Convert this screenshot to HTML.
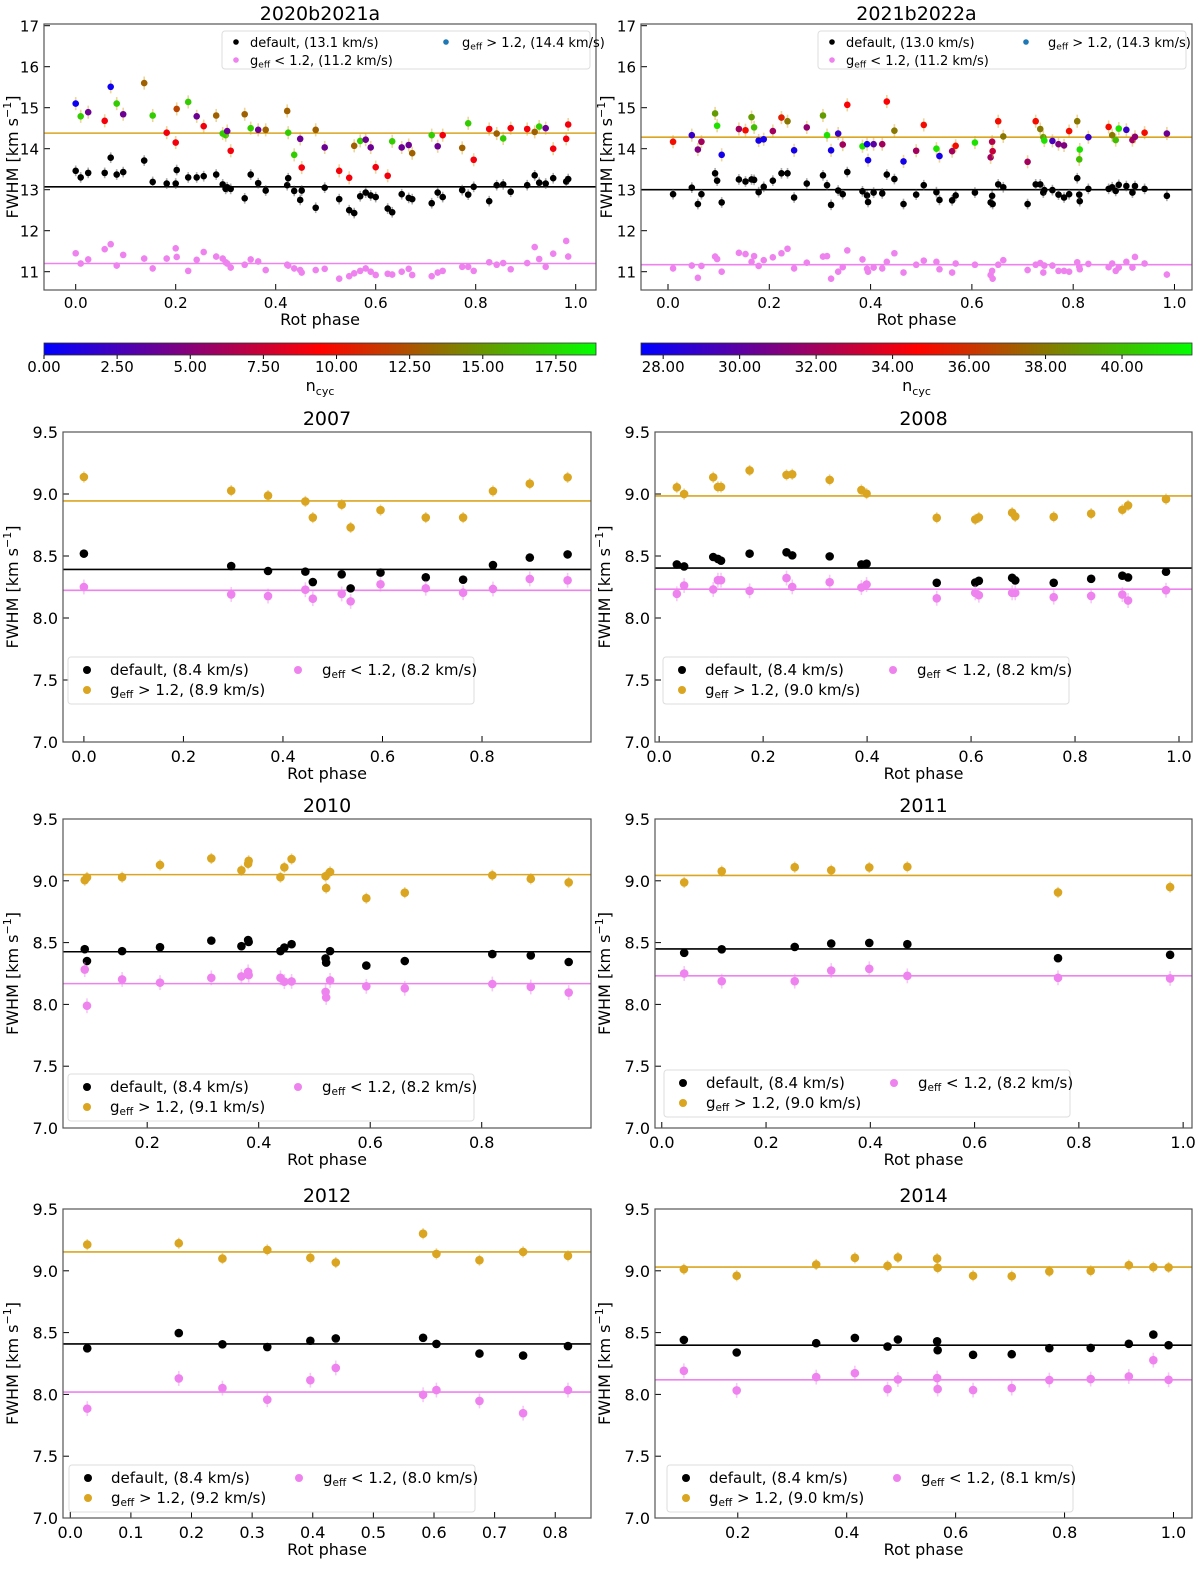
<!DOCTYPE html>
<html><head><meta charset="utf-8"><title>FWHM vs rotational phase</title>
<style>
html,body{margin:0;padding:0;background:#fff;}
svg{display:block;font-family:"DejaVu Sans","Liberation Sans",sans-serif;}
</style></head>
<body>
<svg id="fig" width="1200" height="1570" viewBox="0 0 1200 1570" xmlns="http://www.w3.org/2000/svg">
<defs>
<linearGradient id="brg" x1="0" x2="1" y1="0" y2="0"><stop offset="0" stop-color="#0000ff"/><stop offset="0.5" stop-color="#ff0000"/><stop offset="1" stop-color="#00ff00"/></linearGradient>
</defs>
</svg>
<script>
// ---------- data: 2020b2021a ----------
const p1Phase=[0,0.01,0.025,0.058,0.07,0.082,0.095,0.137,0.154,0.182,0.2,0.202,0.225,0.242,0.256,0.281,0.294,0.3,0.303,0.31,0.338,0.35,0.365,0.38,0.423,0.425,0.437,0.449,0.452,0.48,0.498,0.527,0.547,0.557,0.569,0.58,0.59,0.6,0.624,0.633,0.652,0.666,0.673,0.712,0.724,0.734,0.773,0.785,0.796,0.827,0.842,0.855,0.87,0.903,0.918,0.927,0.94,0.955,0.981,0.985];
const p1Hi=[15.1,14.79,14.89,14.68,15.51,15.1,14.84,15.6,14.81,14.39,14.15,14.97,15.14,14.79,14.55,14.81,14.37,14.33,14.43,13.95,14.84,14.5,14.46,14.46,14.92,14.39,13.85,14.24,13.54,14.46,14.03,13.46,13.29,14.07,14.19,14.22,14.03,13.55,13.34,14.18,14.03,14.09,13.89,14.33,14.06,14.33,14.02,14.62,13.73,14.48,14.37,14.25,14.5,14.48,14.41,14.54,14.5,14.0,14.24,14.59];
const p1Ncyc=[0.5,17,4,9,0.5,17,4,13,17,9,9,12,17,4,9,13,17,17,4,9,13,17,4,13,13,17,17,4,9,13,4,9,9,13,17,4,4,9,9,17,4,4,13,17,4,9,13,17,9,9,13,17,9,9,13,17,4,9,9,9];
const p1Def=[13.46,13.3,13.41,13.41,13.78,13.37,13.43,13.71,13.19,13.15,13.15,13.48,13.3,13.3,13.33,13.37,13.13,13.02,13.06,13.02,12.79,13.37,13.16,12.98,13.11,13.28,12.97,12.75,12.98,12.56,13.05,12.77,12.5,12.43,12.84,12.93,12.86,12.82,12.54,12.45,12.89,12.8,12.77,12.67,12.93,12.82,12.99,12.88,13.07,12.72,13.11,13.13,12.95,13.11,13.35,13.17,13.15,13.28,13.2,13.26];
const p1Lo=[11.45,11.2,11.3,11.55,11.67,11.15,11.41,11.32,11.08,11.32,11.57,11.36,11.02,11.29,11.48,11.37,11.32,11.23,11.2,11.1,11.17,11.3,11.25,11.04,11.17,11.15,11.08,11.04,10.98,11.04,11.07,10.83,10.89,10.96,11.02,11.08,11.0,10.92,10.95,10.93,11.0,11.07,10.92,10.89,10.98,11.02,11.12,11.12,11.02,11.23,11.17,11.21,11.06,11.21,11.6,11.31,11.12,11.44,11.75,11.37];
const p1Means=[13.07,14.38,11.2];
const p1Legend=["13.1","14.4","11.2"];
// ---------- data: 2021b2022a ----------
const p2Phase=[0.01,0.047,0.059,0.066,0.093,0.097,0.106,0.14,0.153,0.165,0.17,0.179,0.189,0.207,0.224,0.236,0.249,0.274,0.306,0.314,0.322,0.336,0.345,0.354,0.384,0.393,0.395,0.406,0.423,0.432,0.447,0.465,0.49,0.505,0.53,0.536,0.561,0.568,0.606,0.637,0.64,0.641,0.652,0.662,0.71,0.726,0.735,0.741,0.743,0.759,0.771,0.782,0.792,0.808,0.813,0.812,0.83,0.87,0.877,0.884,0.89,0.905,0.917,0.922,0.941,0.985];
const p2Hi=[14.17,14.33,13.98,14.17,14.86,14.56,13.85,14.48,14.45,14.77,14.52,14.2,14.23,14.43,14.76,14.67,13.96,14.52,14.81,14.33,13.96,14.37,14.1,15.07,14.06,14.11,13.72,14.11,14.11,15.15,14.44,13.69,13.95,14.58,14.0,13.82,13.94,14.07,14.15,13.79,14.17,13.94,14.67,14.3,13.68,14.67,14.48,14.28,14.2,14.19,14.11,14.08,14.43,14.67,13.98,13.74,14.28,14.53,14.33,14.21,14.49,14.46,14.21,14.29,14.39,14.37];
const p2Ncyc=[35,29,31,32,39,41,28,32,35,39,40,28,28,32,35.5,38,28,31.5,39,41,28,29,32,34.5,41,28,28,30,32,34.5,38,28,32,35,41,28,32,35,41,32,32.5,33,35,38,32,35,38,39,41,29.5,31,31,35,38,41,40,29,35,38,40,41,29,32,31.5,35,30.5];
const p2Def=[12.89,13.05,12.65,12.89,13.4,13.22,12.69,13.25,13.2,13.25,13.24,12.94,13.07,13.22,13.4,13.4,12.81,13.15,13.35,13.11,12.63,12.98,12.89,13.43,12.96,12.86,12.7,12.93,12.91,13.37,13.26,12.65,12.88,13.11,12.94,12.75,12.74,12.86,12.93,12.69,12.85,12.65,13.13,13.06,12.65,13.13,13.13,12.93,12.99,12.99,12.88,12.81,12.89,13.28,12.72,12.88,13.02,13.02,13.06,12.97,13.12,13.09,12.93,13.09,13.02,12.85];
const p2Lo=[11.08,11.15,10.85,11.14,11.37,11.31,11.0,11.46,11.43,11.24,11.38,11.14,11.28,11.35,11.45,11.56,11.08,11.22,11.37,11.38,10.83,11.0,11.11,11.52,11.3,11.07,11.0,11.1,11.08,11.24,11.45,10.98,11.17,11.27,11.24,11.06,10.98,11.2,11.17,10.92,11.02,10.83,11.17,11.28,11.04,11.17,11.21,10.98,11.15,11.15,11.02,11.02,11.0,11.23,11.06,11.12,11.19,11.11,11.2,11.02,11.1,11.24,11.1,11.36,11.2,10.93];
const p2Means=[13.0,14.28,11.17];
const p2Legend=["13.0","14.3","11.2"];
// ---------- data: 2007 ----------
const y07Phase=[0.0,0.296,0.37,0.445,0.46,0.518,0.536,0.596,0.687,0.762,0.822,0.896,0.972];
const y07Hi=[9.137,9.027,8.987,8.94,8.81,8.914,8.73,8.87,8.81,8.81,9.024,9.083,9.134];
const y07Def=[8.519,8.419,8.379,8.374,8.29,8.352,8.239,8.366,8.328,8.309,8.427,8.487,8.513];
const y07Lo=[8.25,8.19,8.177,8.228,8.156,8.194,8.134,8.272,8.24,8.204,8.234,8.315,8.304];
const y07Means=[8.392,8.944,8.223];
const y07Legend=["8.4","8.9","8.2"];
// ---------- data: 2008 ----------
const y08Phase=[0.034,0.048,0.104,0.113,0.119,0.174,0.245,0.256,0.328,0.389,0.399,0.534,0.608,0.615,0.679,0.685,0.759,0.831,0.891,0.902,0.975];
const y08Hi=[9.054,9.0,9.135,9.057,9.057,9.19,9.154,9.159,9.114,9.032,9.003,8.808,8.795,8.811,8.849,8.819,8.816,8.841,8.873,8.908,8.959];
const y08Def=[8.432,8.416,8.492,8.476,8.462,8.519,8.53,8.505,8.497,8.432,8.438,8.284,8.286,8.3,8.324,8.303,8.284,8.316,8.341,8.327,8.373];
const y08Lo=[8.195,8.262,8.23,8.305,8.305,8.219,8.322,8.251,8.289,8.246,8.27,8.159,8.203,8.184,8.203,8.203,8.168,8.178,8.189,8.141,8.224];
const y08Means=[8.403,8.984,8.232];
const y08Legend=["8.4","9.0","8.2"];
// ---------- data: 2010 ----------
const y10Phase=[0.088,0.092,0.155,0.223,0.315,0.369,0.381,0.382,0.439,0.446,0.459,0.52,0.521,0.528,0.593,0.662,0.819,0.888,0.956];
const y10Hi=[9.005,9.027,9.029,9.128,9.181,9.085,9.138,9.162,9.029,9.109,9.176,9.037,8.941,9.072,8.859,8.904,9.045,9.016,8.987];
const y10Def=[8.447,8.351,8.431,8.463,8.516,8.471,8.521,8.505,8.431,8.46,8.487,8.372,8.338,8.431,8.314,8.351,8.407,8.396,8.343];
const y10Lo=[8.282,7.989,8.202,8.176,8.215,8.226,8.263,8.237,8.215,8.184,8.186,8.101,8.056,8.194,8.146,8.13,8.165,8.141,8.096];
const y10Means=[8.426,9.05,8.168];
const y10Legend=["8.4","9.1","8.2"];
// ---------- data: 2011 ----------
const y11Phase=[0.043,0.115,0.255,0.325,0.398,0.471,0.76,0.975];
const y11Hi=[8.987,9.078,9.11,9.086,9.108,9.113,8.906,8.949];
const y11Def=[8.417,8.446,8.465,8.492,8.497,8.487,8.374,8.401];
const y11Lo=[8.25,8.188,8.188,8.274,8.288,8.231,8.215,8.21];
const y11Means=[8.449,9.043,8.231];
const y11Legend=["8.4","9.0","8.2"];
// ---------- data: 2012 ----------
const y12Phase=[0.028,0.179,0.251,0.325,0.396,0.438,0.582,0.604,0.675,0.747,0.821];
const y12Hi=[9.212,9.223,9.099,9.169,9.105,9.067,9.3,9.137,9.086,9.153,9.121];
const y12Def=[8.373,8.496,8.405,8.383,8.434,8.453,8.458,8.408,8.33,8.314,8.391];
const y12Lo=[7.885,8.129,8.051,7.957,8.115,8.214,7.997,8.035,7.947,7.848,8.035];
const y12Means=[8.408,9.153,8.019];
const y12Legend=["8.4","9.2","8.0"];
// ---------- data: 2014 ----------
const y14Phase=[0.101,0.198,0.344,0.415,0.475,0.494,0.566,0.567,0.632,0.703,0.772,0.848,0.918,0.963,0.991];
const y14Hi=[9.013,8.96,9.051,9.105,9.04,9.108,9.099,9.024,8.96,8.957,8.995,9.0,9.046,9.03,9.027];
const y14Def=[8.441,8.339,8.414,8.457,8.387,8.444,8.43,8.358,8.32,8.325,8.374,8.376,8.409,8.484,8.398];
const y14Lo=[8.191,8.032,8.14,8.172,8.043,8.121,8.132,8.043,8.035,8.051,8.116,8.124,8.145,8.277,8.118];
const y14Means=[8.398,9.03,8.118];
const y14Legend=["8.4","9.0","8.1"];
// ---------- tick labels ----------
const topYTicks=[11,12,13,14,15,16,17];
const botYTicks=[7.0,7.5,8.0,8.5,9.0,9.5];
const xTicksFull=[0,0.2,0.4,0.6,0.8,1.0];
const xTicks07=[0,0.2,0.4,0.6,0.8];
const xTicks10=[0.2,0.4,0.6,0.8];
const xTicks12=[0,0.1,0.2,0.3,0.4,0.5,0.6,0.7,0.8];
const xTicks14=[0.2,0.4,0.6,0.8,1.0];
const cbar1Ticks=[0,2.5,5,7.5,10,12.5,15,17.5];
const cbar2Ticks=[28,30,32,34,36,38,40];

const NS="http://www.w3.org/2000/svg";
const svg=document.getElementById('fig');
const ORANGE="#DAA520", PINK="#EE82EE";
function mk(tag,attrs,parent){const e=document.createElementNS(NS,tag);for(const k in attrs)e.setAttribute(k,attrs[k]);(parent||svg).appendChild(e);return e;}
function brg(t){t=Math.max(0,Math.min(1,t));let r,g,b;if(t<0.5){r=2*t;g=0;b=1-2*t;}else{r=2-2*t;g=2*t-1;b=0;}return `rgb(${Math.round(r*255)},${Math.round(g*255)},${Math.round(b*255)})`;}

function gText(parent,x,y,rest,size,anchor){
  const t=mk('text',{x:x,y:y,'font-size':size,'text-anchor':anchor||'start',fill:'#000'},parent);
  t.appendChild(document.createTextNode('g'));
  const s=mk('tspan',{'font-size':size*0.7,dy:size*0.2},t);s.textContent='eff';
  const r=mk('tspan',{dy:-size*0.2},t);r.textContent=rest;
  return t;
}

function panel(c){
  const g=mk('g',{});
  
  
  const sx=v=>c.x0+(v-c.xmin)/(c.xmax-c.xmin)*(c.x1-c.x0);
  const sy=v=>c.y1-(v-c.ymin)/(c.ymax-c.ymin)*(c.y1-c.y0);
  const top=c.top;
  c.yticks.forEach(v=>{
    const y=sy(v);
    const tk=mk('line',{x1:c.x0,x2:c.x0+6,y1:y,y2:y,stroke:'#000','stroke-width':1},g);
    
    
    const tl=mk('text',{x:c.x0-5,y:y+6,'font-size':top?15:16,'text-anchor':'end'},g);
    
    
    tl.textContent=top?String(v):v.toFixed(1);
  });
  c.xticks.forEach(v=>{
    const x=sx(v);
    const tk=mk('line',{x1:x,x2:x,y1:c.y1,y2:c.y1-6,stroke:'#000','stroke-width':1},g);
    
    
    const tl=mk('text',{x:x,y:c.y1+(top?18:20),'font-size':top?15:16,'text-anchor':'middle'},g);
    
    
    tl.textContent=v.toFixed(1);
  });
  const cp=mk('clipPath',{id:'clip-'+c.name},g);
  mk('rect',{x:c.x0,y:c.y0,width:c.x1-c.x0,height:c.y1-c.y0},cp);
  const pg=mk('g',{'clip-path':`url(#clip-${c.name})`},g);
  const r=top?3.3:4.3;
  function series(vals,col,errCol,err,nm){
    vals.forEach((v,i)=>{
      const x=sx(c.phase[i]),y=sy(v);
      const eb=mk('line',{x1:x,x2:x,y1:sy(v+err),y2:sy(v-err),stroke:errCol,'stroke-width':1.6,'stroke-opacity':0.45},pg);
      
      
      const fc=typeof col==='function'?col(i):col;
      const dot=mk('circle',{cx:x,cy:y,r:r,fill:fc},pg);
      
      
    });
  }
  const mc=['#000',ORANGE,PINK];
  const mn=['default-mean-line','high-geff-mean-line','low-geff-mean-line'];
  c.means.forEach((m,i)=>{
    const ln=mk('line',{x1:c.x0,x2:c.x1,y1:sy(m),y2:sy(m),stroke:mc[i],'stroke-width':1.6},pg);
    
    
  });
  const eDef=top?0.13:0.03, eHi=top?0.16:0.045, eLo=top?0.08:0.06;
  series(c.def,'#000','#444',eDef,'default');
  if(top){
    series(c.hi,i=>brg((c.ncyc[i]-c.cmin)/(c.cmax-c.cmin)),ORANGE,eHi,'high-geff');
  } else {
    series(c.hi,ORANGE,ORANGE,eHi,'high-geff');
  }
  series(c.lo,PINK,PINK,eLo,'low-geff');
  const fr=mk('rect',{x:c.x0,y:c.y0,width:c.x1-c.x0,height:c.y1-c.y0,fill:'none',stroke:'#555','stroke-width':1.2},g);
  
  
  const ti=mk('text',{x:(c.x0+c.x1)/2,y:c.y0-(top?4:7),'font-size':19,'text-anchor':'middle'},g);
  
  
  ti.textContent=c.title;
  const xl=mk('text',{x:(c.x0+c.x1)/2,y:c.y1+(top?35:37),'font-size':16,'text-anchor':'middle'},g);
  
  
  xl.textContent='Rot phase';
  const yx=c.ylabelX, yy=(c.y0+c.y1)/2;
  const yl=mk('text',{x:0,y:0,'font-size':16,'text-anchor':'middle',transform:`translate(${yx},${yy}) rotate(-90)`},g);
  
  
  yl.appendChild(document.createTextNode('FWHM [km s'));
  const sup=mk('tspan',{'font-size':11,dy:-7},yl);sup.textContent='\u22121';
  const cl=mk('tspan',{dy:7},yl);cl.textContent=']';
  const L=c.leg;
  const lg=mk('g',{},g);
  
  
  const lb=mk('rect',{x:L.x,y:L.y,width:L.w,height:L.h,rx:3,fill:'#fff','fill-opacity':0.85,stroke:'#ddd','stroke-width':1},lg);
  
  
  const fs=top?13:15;
  const e1=mk('g',{},lg);
  
  
  mk('circle',{cx:L.x+L.m1,cy:L.r1,r:top?2.8:4,fill:'#000'},e1);
  const t1=mk('text',{x:L.x+L.t1,y:L.r1+5,'font-size':fs},e1);t1.textContent=`default, (${c.legend[0]} km/s)`;
  const e2=mk('g',{},lg);
  
  
  if(top){
    mk('circle',{cx:L.x+L.m2,cy:L.r1,r:2.8,fill:'#1f77b4'},e2);
    gText(e2,L.x+L.t2,L.r1+5,` > 1.2, (${c.legend[1]} km/s)`,fs);
  } else {
    mk('circle',{cx:L.x+L.m1,cy:L.r2,r:4,fill:ORANGE},e2);
    gText(e2,L.x+L.t1,L.r2+5,` > 1.2, (${c.legend[1]} km/s)`,fs);
  }
  const e3=mk('g',{},lg);
  
  
  if(top){
    mk('circle',{cx:L.x+L.m1,cy:L.r2,r:2.8,fill:PINK},e3);
    gText(e3,L.x+L.t1,L.r2+5,` < 1.2, (${c.legend[2]} km/s)`,fs);
  } else {
    mk('circle',{cx:L.x+L.m2,cy:L.r1,r:4,fill:PINK},e3);
    gText(e3,L.x+L.t2,L.r1+5,` < 1.2, (${c.legend[2]} km/s)`,fs);
  }
}

function colorbar(x0,x1,y0,y1,vmin,vmax,ticks,name){
  const g=mk('g',{});
  
  
  mk('rect',{x:x0,y:y0,width:x1-x0,height:y1-y0,fill:'url(#brg)',stroke:'#333','stroke-width':0.8},g);
  ticks.forEach(v=>{
    const x=x0+(v-vmin)/(vmax-vmin)*(x1-x0);
    mk('line',{x1:x,x2:x,y1:y1,y2:y1+4,stroke:'#000'},g);
    const t=mk('text',{x:x,y:y1+17,'font-size':15,'text-anchor':'middle'},g);
    
    
    t.textContent=v.toFixed(2);
  });
  const lab=mk('text',{x:(x0+x1)/2,y:y1+36,'font-size':16,'text-anchor':'middle'},g);
  
  
  lab.appendChild(document.createTextNode('n'));
  const s=mk('tspan',{'font-size':11,dy:4},lab);s.textContent='cyc';
}

const tYmin=16-(290-66.7)/41, tYmax=16+(66.7-24)/41;
panel({name:'2020b2021a',title:'2020b2021a',top:true,x0:44,x1:596,y0:24,y1:290,xmin:-0.0634,xmax:1.0406,ymin:tYmin,ymax:tYmax,
  yticks:topYTicks,xticks:xTicksFull,phase:p1Phase,hi:p1Hi,def:p1Def,lo:p1Lo,ncyc:p1Ncyc,cmin:0,cmax:18.87,means:p1Means,legend:p1Legend,ylabelX:18,
  leg:{x:222,y:31,w:368,h:38,r1:42,r2:60,m1:14,t1:28,m2:224,t2:240}});
panel({name:'2021b2022a',title:'2021b2022a',top:true,x0:641,x1:1192,y0:24,y1:290,xmin:-0.0533,xmax:1.0346,ymin:tYmin,ymax:tYmax,
  yticks:topYTicks,xticks:xTicksFull,phase:p2Phase,hi:p2Hi,def:p2Def,lo:p2Lo,ncyc:p2Ncyc,cmin:27.42,cmax:41.83,means:p2Means,legend:p2Legend,ylabelX:612,
  leg:{x:818,y:31,w:368,h:38,r1:42,r2:60,m1:14,t1:28,m2:208,t2:230}});
colorbar(44,596,343,355,0,18.87,cbar1Ticks,'colorbar-ncyc-2020b2021a');
colorbar(641,1192,343,355,27.42,41.83,cbar2Ticks,'colorbar-ncyc-2021b2022a');

function bot(name,x0,x1,y0,y1,xmin,xmax,xt,ph,hi,de,lo,means,legend,ylx,lx,lyOff){
  const ly=y1-lyOff;
  panel({name:name,title:name,top:false,x0:x0,x1:x1,y0:y0,y1:y1,xmin:xmin,xmax:xmax,ymin:7.0,ymax:9.5,
    yticks:botYTicks,xticks:xt,phase:ph,hi:hi,def:de,lo:lo,means:means,legend:legend,ylabelX:ylx,
    leg:{x:lx,y:ly,w:406,h:47,r1:ly+13,r2:ly+33,m1:19,t1:42,m2:230,t2:254}});
}
bot('2007',63,591,432,742,-0.042,1.019,xTicks07,y07Phase,y07Hi,y07Def,y07Lo,y07Means,y07Legend,18,68,85);
bot('2008',655,1192,432,742,-0.008,1.025,xTicksFull,y08Phase,y08Hi,y08Def,y08Lo,y08Means,y08Legend,610,663,85);
bot('2010',63,591,819,1128,0.049,0.996,xTicks10,y10Phase,y10Hi,y10Def,y10Lo,y10Means,y10Legend,18,68,54);
bot('2011',655,1192,819,1128,-0.013,1.017,xTicksFull,y11Phase,y11Hi,y11Def,y11Lo,y11Means,y11Legend,610,664,58);
bot('2012',63,591,1209,1518,-0.012,0.859,xTicks12,y12Phase,y12Hi,y12Def,y12Lo,y12Means,y12Legend,18,69,53);
bot('2014',655,1192,1209,1518,0.048,1.034,xTicks14,y14Phase,y14Hi,y14Def,y14Lo,y14Means,y14Legend,610,667,53);
</script>
</body></html>
